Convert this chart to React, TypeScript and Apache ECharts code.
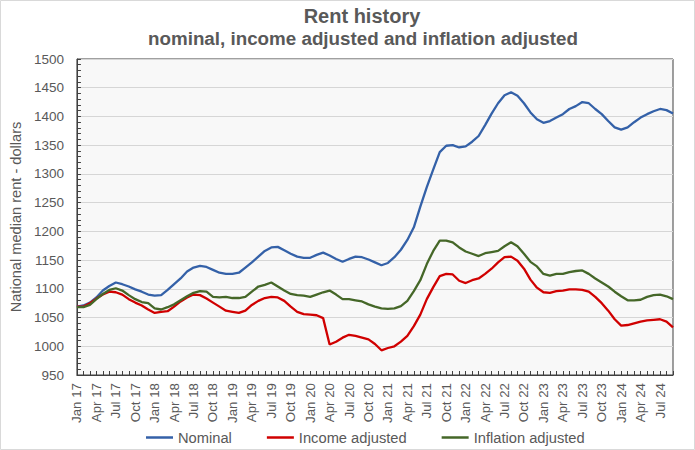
import React, { useEffect, useRef } from "react";
import * as echarts from "echarts";

const CATEGORIES = [
  "Jan 17", "Feb 17", "Mar 17", "Apr 17", "May 17", "Jun 17", "Jul 17", "Aug 17", "Sep 17", "Oct 17", "Nov 17", "Dec 17",
  "Jan 18", "Feb 18", "Mar 18", "Apr 18", "May 18", "Jun 18", "Jul 18", "Aug 18", "Sep 18", "Oct 18", "Nov 18", "Dec 18",
  "Jan 19", "Feb 19", "Mar 19", "Apr 19", "May 19", "Jun 19", "Jul 19", "Aug 19", "Sep 19", "Oct 19", "Nov 19", "Dec 19",
  "Jan 20", "Feb 20", "Mar 20", "Apr 20", "May 20", "Jun 20", "Jul 20", "Aug 20", "Sep 20", "Oct 20", "Nov 20", "Dec 20",
  "Jan 21", "Feb 21", "Mar 21", "Apr 21", "May 21", "Jun 21", "Jul 21", "Aug 21", "Sep 21", "Oct 21", "Nov 21", "Dec 21",
  "Jan 22", "Feb 22", "Mar 22", "Apr 22", "May 22", "Jun 22", "Jul 22", "Aug 22", "Sep 22", "Oct 22", "Nov 22", "Dec 22",
  "Jan 23", "Feb 23", "Mar 23", "Apr 23", "May 23", "Jun 23", "Jul 23", "Aug 23", "Sep 23", "Oct 23", "Nov 23", "Dec 23",
  "Jan 24", "Feb 24", "Mar 24", "Apr 24", "May 24", "Jun 24", "Jul 24", "Aug 24", "Sep 24",
];

const NOMINAL = [
  1069, 1071, 1076, 1085, 1097, 1105, 1111, 1108, 1104, 1099, 1095, 1090,
  1088, 1089, 1098, 1108, 1118, 1130, 1137, 1140, 1138, 1133, 1128, 1126,
  1126, 1128, 1137, 1146, 1156, 1166, 1172, 1173, 1167, 1161, 1156, 1154,
  1154, 1159, 1163, 1158, 1152, 1147, 1152, 1156, 1155, 1151, 1146, 1141,
  1145, 1155, 1168, 1185, 1207, 1243, 1277, 1308, 1338, 1349, 1350, 1346,
  1348, 1356, 1366, 1385, 1405, 1423, 1437, 1442, 1436, 1423, 1407, 1395,
  1389, 1392, 1398, 1404, 1413, 1418, 1425, 1423, 1413, 1404, 1392, 1381,
  1377, 1381, 1390, 1398, 1404, 1409, 1413, 1411, 1405,
];

const INCOME_ADJUSTED = [
  1069, 1069, 1075, 1083, 1090, 1095, 1094, 1090, 1082, 1076, 1071, 1064,
  1058, 1060, 1061, 1069, 1078, 1085, 1090, 1089, 1083, 1076, 1069, 1062,
  1060, 1058, 1062, 1072, 1079, 1084, 1086, 1085, 1079, 1069, 1060, 1056,
  1055, 1054, 1049, 1003, 1008, 1015, 1020, 1018, 1015, 1012, 1004, 993,
  997, 1000, 1008, 1018, 1035, 1055, 1082, 1103, 1122, 1126, 1125, 1114,
  1110, 1115, 1118, 1126, 1135, 1146, 1155, 1156, 1149, 1135, 1116, 1102,
  1094, 1093, 1096, 1097, 1099, 1099, 1098, 1095, 1086, 1075, 1062, 1047,
  1036, 1037, 1040, 1043, 1045, 1046, 1047, 1043, 1033,
];

const INFLATION_ADJUSTED = [
  1068, 1068, 1072, 1082, 1091, 1098, 1101, 1097, 1089, 1082, 1077, 1075,
  1066, 1064, 1068, 1073, 1080, 1087, 1093, 1096, 1095, 1086, 1085, 1086,
  1084, 1084, 1086, 1095, 1104, 1107, 1111, 1104, 1097, 1091, 1089, 1088,
  1086, 1090, 1094, 1097, 1090, 1082, 1082, 1080, 1078, 1073, 1069, 1066,
  1065, 1066, 1070, 1079, 1096, 1115, 1143, 1166, 1184, 1184, 1181, 1172,
  1165, 1161, 1157, 1162, 1164, 1166, 1174, 1181, 1174, 1161, 1147, 1139,
  1126, 1123, 1126, 1126, 1129, 1131, 1132, 1126, 1118, 1111, 1104, 1095,
  1087, 1080, 1080, 1081, 1086, 1089, 1090, 1087, 1082,
];

const SERIES_NAMES = ["Nominal", "Income adjusted", "Inflation adjusted"];
const SERIES_COLORS = ["#3461a8", "#d00000", "#456728"];

const Y_MIN = 950;
const Y_MAX = 1500;
const Y_STEP = 50;

const TITLE = "Rent history";
const SUBTITLE = "nominal, income adjusted and inflation adjusted";
const Y_NAME = "National median rent - dollars";

const FONT = '"Liberation Sans", Arial, sans-serif';
const TEXT_COLOR = "#595959";
const AXIS_COLOR = "#404040";

export default function App() {
  const ref = useRef<HTMLDivElement>(null);

  useEffect(() => {
    if (!ref.current) return;
    const chart = echarts.init(ref.current, null, { renderer: "svg" });
    const values = [NOMINAL, INCOME_ADJUSTED, INFLATION_ADJUSTED];
    chart.setOption({
      animation: false,
      backgroundColor: "#ffffff",
      textStyle: { fontFamily: FONT },
      graphic: [
        {
          type: "rect",
          shape: { x: 0.5, y: 0.5, width: 694, height: 449 },
          style: { fill: "none", stroke: "#d9d9d9", lineWidth: 1 },
          silent: true,
        },
        {
          type: "text",
          x: 362,
          y: 16,
          style: {
            text: TITLE,
            textAlign: "center",
            textVerticalAlign: "middle",
            fontFamily: FONT,
            fontWeight: "bold",
            fontSize: 20,
            fill: TEXT_COLOR,
          },
        },
        {
          type: "text",
          x: 363,
          y: 38,
          style: {
            text: SUBTITLE,
            textAlign: "center",
            textVerticalAlign: "middle",
            fontFamily: FONT,
            fontWeight: "bold",
            fontSize: 18.8,
            fill: TEXT_COLOR,
          },
        },
      ],
      grid: {
        left: 72,
        right: 22,
        top: 59,
        bottom: 75,
        show: true,
        backgroundColor: "#f8f8f8",
        borderColor: AXIS_COLOR,
        borderWidth: 1,
        containLabel: false,
      },
      legend: {
        left: 146,
        top: 430,
        padding: 0,
        icon: "rect",
        itemWidth: 27,
        itemHeight: 2.5,
        itemGap: 35,
        data: SERIES_NAMES,
        textStyle: { fontSize: 14.7, color: TEXT_COLOR, fontFamily: FONT },
      },
      xAxis: {
        type: "category",
        data: CATEGORIES,
        boundaryGap: false,
        axisLine: { show: true, lineStyle: { color: AXIS_COLOR, width: 1 } },
        axisTick: {
          show: true,
          interval: 0,
          inside: true,
          length: 4,
          lineStyle: { color: AXIS_COLOR },
        },
        axisLabel: {
          interval: 2,
          rotate: 90,
          fontSize: 13.3,
          color: TEXT_COLOR,
          margin: 8,
          fontFamily: FONT,
        },
        splitLine: { show: false },
      },
      yAxis: {
        type: "value",
        min: Y_MIN,
        max: Y_MAX,
        interval: Y_STEP,
        name: Y_NAME,
        nameLocation: "middle",
        nameRotate: 90,
        nameGap: 49,
        nameTextStyle: { fontSize: 14.6, color: TEXT_COLOR, fontFamily: FONT },
        axisLine: { show: true, lineStyle: { color: AXIS_COLOR, width: 1 } },
        axisTick: { show: true, inside: true, length: 4, lineStyle: { color: AXIS_COLOR } },
        minorTick: { show: true, splitNumber: 5, length: 4, lineStyle: { color: AXIS_COLOR } },
        splitLine: { show: true, lineStyle: { color: "#d6d6d6", width: 1 } },
        minorSplitLine: { show: false },
        axisLabel: {
          fontSize: 13.5,
          color: TEXT_COLOR,
          margin: 13,
          fontFamily: FONT,
          formatter: (v: number) => String(v),
        },
      },
      series: SERIES_NAMES.map((name, i) => ({
        name,
        type: "line",
        data: values[i],
        showSymbol: false,
        symbol: "none",
        color: SERIES_COLORS[i],
        lineStyle: { color: SERIES_COLORS[i], width: 2.3 },
      })),
    });
    return () => chart.dispose();
  }, []);

  return (
    <div
      ref={ref}
      style={{ position: "absolute", left: 0, top: 0, width: 695, height: 450, background: "#fff" }}
    />
  );
}
